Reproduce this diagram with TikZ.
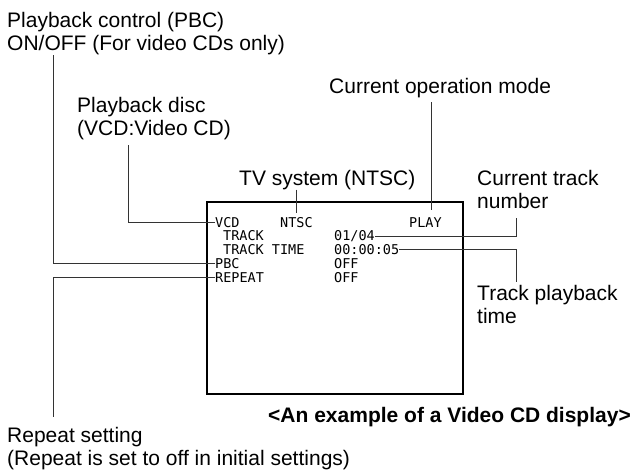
\documentclass[tikz,border=0pt]{standalone}
\usepackage{fontspec}
\setmainfont{Liberation Sans}
\newfontfamily\lcdfont{DejaVu Sans Mono}
\usepackage{tikz}

\begin{document}
\begin{tikzpicture}[x=1pt, y=-1pt,
    note/.style={anchor=base west, inner sep=0, align=left, font=\fontsize{21}{22.5}\selectfont},
    lcd/.style={anchor=base west, inner sep=0, font=\lcdfont\fontsize{13.5}{14}\selectfont},
    lead/.style={draw=black!80, line width=0.9pt}]
\useasboundingbox (0, 0) rectangle (642, 469);
\draw[black, line width=2.5pt] (207, 202) rectangle (463, 394);
% what the screen shows
\node[lcd] (vcd) at (215, 227) {VCD};
\node[lcd] (ntsc) at (280, 227) {NTSC};
\node[lcd] (play) at (409, 227) {PLAY};
\node[lcd] (track) at (223, 240.5) {TRACK};
\node[lcd] (tracktime) at (223, 254.5) {TRACK TIME};
\node[lcd] (pbc) at (215, 268) {PBC};
\node[lcd] (repeat) at (215, 282) {REPEAT};
\node[lcd] (tracknum) at (334, 240.5) {01/04};
\node[lcd] (timeval) at (334, 254.5) {00:00:05};
\node[lcd] (pbcval) at (334, 268) {OFF};
\node[lcd] (repeatval) at (334, 282) {OFF};
% callouts (base = last line)
\node[note] (pbcnote) at (7, 50) {Playback control (PBC)\\ON/OFF (For video CDs only)};
\node[note] (discnote) at (77, 135) {Playback disc\\(VCD:Video CD)};
\node[note] (tvnote) at (239, 185) {TV system (NTSC)};
\node[note] (modenote) at (329, 93) {Current operation mode};
\node[note] (tracknote) at (477, 208) {Current track\\number};
\node[note] (timenote) at (477, 323) {Track playback\\time};
\node[note] (repeatnote) at (7, 465) {Repeat setting\\(Repeat is set to off in initial settings)};
\node[note, anchor=base east, font=\bfseries\fontsize{21}{22.5}\selectfont] (caption) at (631, 422) {<An example of a Video CD display>};
\coordinate (pbcend) at (53, 55);
\coordinate (discend) at (128, 145);
\coordinate (modeend) at (431, 102);
\coordinate (trackend) at (516, 218);
\coordinate (timeend) at (516, 282);
\coordinate (repeatend) at (53, 417);
\draw[lead] (pbcend) |- (pbc.west);
\draw[lead] (discend) |- (vcd.west);
\draw[lead] (tvnote.south -| ntsc.north) -- ([yshift=4pt]ntsc.north);
\draw[lead] (modeend) -- ([yshift=7pt]modeend |- play.north);
\draw[lead] (tracknum.east) -| (trackend);
\draw[lead] (timeval.east) -| (timeend);
\draw[lead] (repeat.west) -| (repeatend);
\end{tikzpicture}
\end{document}
